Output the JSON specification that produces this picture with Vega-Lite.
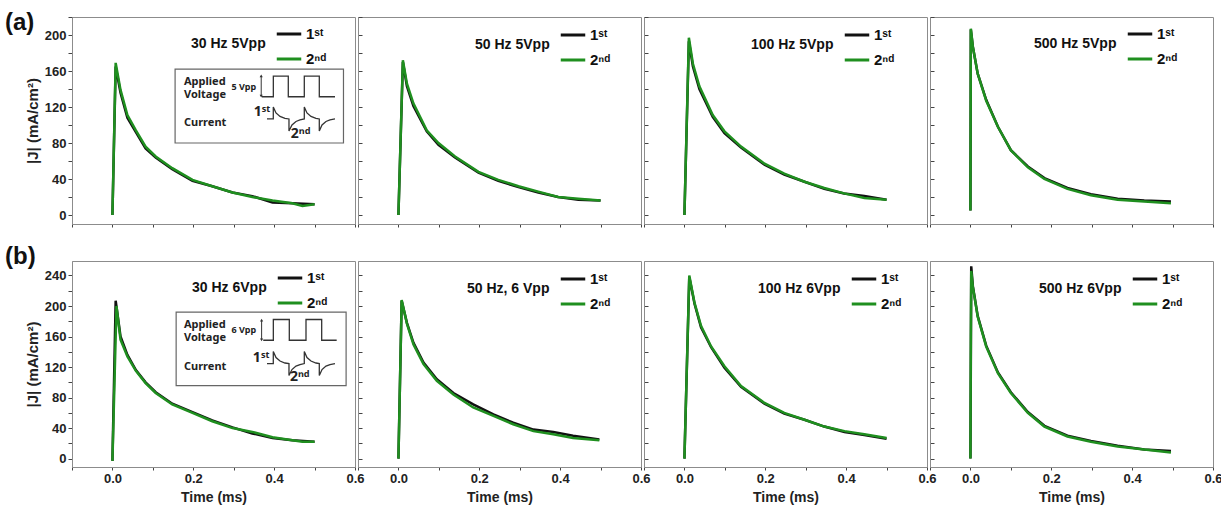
{
"$schema":"https://vega.github.io/schema/vega-lite/v6.json",
"padding":{"left":4,"top":10,"right":4,"bottom":2},
"background":"white",
"spacing":16,
"resolve":{"scale":{"color":"independent","shape":"independent"},"legend":{"color":"independent","shape":"independent"}},
"datasets":{
"curves":[
{"p":"a1","s":"1st","t":0,"J":0},{"p":"a1","s":"1st","t":0.008,"J":165},{"p":"a1","s":"1st","t":0.02,"J":136},{"p":"a1","s":"1st","t":0.037,"J":108},{"p":"a1","s":"1st","t":0.058,"J":92},{"p":"a1","s":"1st","t":0.082,"J":74},{"p":"a1","s":"1st","t":0.107,"J":64},{"p":"a1","s":"1st","t":0.148,"J":51},{"p":"a1","s":"1st","t":0.198,"J":38},{"p":"a1","s":"1st","t":0.247,"J":32},{"p":"a1","s":"1st","t":0.297,"J":25},{"p":"a1","s":"1st","t":0.346,"J":21},{"p":"a1","s":"1st","t":0.396,"J":14},{"p":"a1","s":"1st","t":0.445,"J":13},{"p":"a1","s":"1st","t":0.5,"J":12},
{"p":"a1","s":"2nd","t":0,"J":0},{"p":"a1","s":"2nd","t":0.008,"J":169},{"p":"a1","s":"2nd","t":0.02,"J":139},{"p":"a1","s":"2nd","t":0.037,"J":111},{"p":"a1","s":"2nd","t":0.058,"J":94},{"p":"a1","s":"2nd","t":0.082,"J":76},{"p":"a1","s":"2nd","t":0.107,"J":65},{"p":"a1","s":"2nd","t":0.148,"J":52},{"p":"a1","s":"2nd","t":0.198,"J":39},{"p":"a1","s":"2nd","t":0.247,"J":32},{"p":"a1","s":"2nd","t":0.297,"J":25},{"p":"a1","s":"2nd","t":0.346,"J":20},{"p":"a1","s":"2nd","t":0.396,"J":16},{"p":"a1","s":"2nd","t":0.445,"J":13},{"p":"a1","s":"2nd","t":0.47,"J":10},{"p":"a1","s":"2nd","t":0.5,"J":12},
{"p":"a2","s":"1st","t":0,"J":0},{"p":"a2","s":"1st","t":0.011,"J":170},{"p":"a2","s":"1st","t":0.021,"J":143},{"p":"a2","s":"1st","t":0.037,"J":121},{"p":"a2","s":"1st","t":0.07,"J":93},{"p":"a2","s":"1st","t":0.099,"J":78},{"p":"a2","s":"1st","t":0.14,"J":64},{"p":"a2","s":"1st","t":0.198,"J":47},{"p":"a2","s":"1st","t":0.247,"J":38},{"p":"a2","s":"1st","t":0.297,"J":31},{"p":"a2","s":"1st","t":0.346,"J":25},{"p":"a2","s":"1st","t":0.395,"J":20},{"p":"a2","s":"1st","t":0.445,"J":17},{"p":"a2","s":"1st","t":0.5,"J":16},
{"p":"a2","s":"2nd","t":0,"J":0},{"p":"a2","s":"2nd","t":0.011,"J":172},{"p":"a2","s":"2nd","t":0.021,"J":146},{"p":"a2","s":"2nd","t":0.037,"J":124},{"p":"a2","s":"2nd","t":0.07,"J":94},{"p":"a2","s":"2nd","t":0.099,"J":80},{"p":"a2","s":"2nd","t":0.14,"J":65},{"p":"a2","s":"2nd","t":0.198,"J":48},{"p":"a2","s":"2nd","t":0.247,"J":39},{"p":"a2","s":"2nd","t":0.297,"J":32},{"p":"a2","s":"2nd","t":0.346,"J":26},{"p":"a2","s":"2nd","t":0.395,"J":20},{"p":"a2","s":"2nd","t":0.445,"J":18},{"p":"a2","s":"2nd","t":0.5,"J":16},
{"p":"a3","s":"1st","t":0,"J":0},{"p":"a3","s":"1st","t":0.011,"J":193},{"p":"a3","s":"1st","t":0.021,"J":165},{"p":"a3","s":"1st","t":0.037,"J":140},{"p":"a3","s":"1st","t":0.07,"J":109},{"p":"a3","s":"1st","t":0.099,"J":91},{"p":"a3","s":"1st","t":0.14,"J":75},{"p":"a3","s":"1st","t":0.198,"J":56},{"p":"a3","s":"1st","t":0.247,"J":45},{"p":"a3","s":"1st","t":0.297,"J":37},{"p":"a3","s":"1st","t":0.346,"J":29},{"p":"a3","s":"1st","t":0.395,"J":24},{"p":"a3","s":"1st","t":0.445,"J":21},{"p":"a3","s":"1st","t":0.5,"J":17},
{"p":"a3","s":"2nd","t":0,"J":0},{"p":"a3","s":"2nd","t":0.011,"J":197},{"p":"a3","s":"2nd","t":0.021,"J":168},{"p":"a3","s":"2nd","t":0.037,"J":143},{"p":"a3","s":"2nd","t":0.07,"J":111},{"p":"a3","s":"2nd","t":0.099,"J":93},{"p":"a3","s":"2nd","t":0.14,"J":76},{"p":"a3","s":"2nd","t":0.198,"J":57},{"p":"a3","s":"2nd","t":0.247,"J":46},{"p":"a3","s":"2nd","t":0.297,"J":37},{"p":"a3","s":"2nd","t":0.346,"J":30},{"p":"a3","s":"2nd","t":0.395,"J":24},{"p":"a3","s":"2nd","t":0.445,"J":19},{"p":"a3","s":"2nd","t":0.5,"J":17},
{"p":"a4","s":"1st","t":0,"J":5},{"p":"a4","s":"1st","t":0.001,"J":206},{"p":"a4","s":"1st","t":0.006,"J":187},{"p":"a4","s":"1st","t":0.018,"J":157},{"p":"a4","s":"1st","t":0.039,"J":128},{"p":"a4","s":"1st","t":0.068,"J":98},{"p":"a4","s":"1st","t":0.1,"J":72},{"p":"a4","s":"1st","t":0.142,"J":54},{"p":"a4","s":"1st","t":0.183,"J":41},{"p":"a4","s":"1st","t":0.24,"J":30},{"p":"a4","s":"1st","t":0.298,"J":23},{"p":"a4","s":"1st","t":0.364,"J":18},{"p":"a4","s":"1st","t":0.43,"J":16},{"p":"a4","s":"1st","t":0.496,"J":15},
{"p":"a4","s":"2nd","t":0,"J":5},{"p":"a4","s":"2nd","t":0.001,"J":207},{"p":"a4","s":"2nd","t":0.006,"J":187},{"p":"a4","s":"2nd","t":0.018,"J":157},{"p":"a4","s":"2nd","t":0.039,"J":127},{"p":"a4","s":"2nd","t":0.068,"J":98},{"p":"a4","s":"2nd","t":0.1,"J":72},{"p":"a4","s":"2nd","t":0.142,"J":53},{"p":"a4","s":"2nd","t":0.183,"J":40},{"p":"a4","s":"2nd","t":0.24,"J":29},{"p":"a4","s":"2nd","t":0.298,"J":22},{"p":"a4","s":"2nd","t":0.364,"J":17},{"p":"a4","s":"2nd","t":0.43,"J":15},{"p":"a4","s":"2nd","t":0.496,"J":13},
{"p":"b1","s":"1st","t":0,"J":-3},{"p":"b1","s":"1st","t":0.008,"J":207},{"p":"b1","s":"1st","t":0.02,"J":160},{"p":"b1","s":"1st","t":0.037,"J":136},{"p":"b1","s":"1st","t":0.058,"J":116},{"p":"b1","s":"1st","t":0.082,"J":100},{"p":"b1","s":"1st","t":0.107,"J":87},{"p":"b1","s":"1st","t":0.148,"J":72},{"p":"b1","s":"1st","t":0.198,"J":61},{"p":"b1","s":"1st","t":0.247,"J":50},{"p":"b1","s":"1st","t":0.297,"J":41},{"p":"b1","s":"1st","t":0.346,"J":33},{"p":"b1","s":"1st","t":0.396,"J":27},{"p":"b1","s":"1st","t":0.445,"J":24},{"p":"b1","s":"1st","t":0.5,"J":22},
{"p":"b1","s":"2nd","t":0,"J":-3},{"p":"b1","s":"2nd","t":0.01,"J":200},{"p":"b1","s":"2nd","t":0.02,"J":156},{"p":"b1","s":"2nd","t":0.037,"J":134},{"p":"b1","s":"2nd","t":0.058,"J":115},{"p":"b1","s":"2nd","t":0.082,"J":99},{"p":"b1","s":"2nd","t":0.107,"J":86},{"p":"b1","s":"2nd","t":0.148,"J":71},{"p":"b1","s":"2nd","t":0.198,"J":60},{"p":"b1","s":"2nd","t":0.247,"J":49},{"p":"b1","s":"2nd","t":0.297,"J":40},{"p":"b1","s":"2nd","t":0.346,"J":35},{"p":"b1","s":"2nd","t":0.396,"J":28},{"p":"b1","s":"2nd","t":0.445,"J":24},{"p":"b1","s":"2nd","t":0.47,"J":22},{"p":"b1","s":"2nd","t":0.5,"J":22},
{"p":"b2","s":"1st","t":0,"J":0},{"p":"b2","s":"1st","t":0.008,"J":207},{"p":"b2","s":"1st","t":0.021,"J":178},{"p":"b2","s":"1st","t":0.037,"J":152},{"p":"b2","s":"1st","t":0.062,"J":126},{"p":"b2","s":"1st","t":0.095,"J":104},{"p":"b2","s":"1st","t":0.136,"J":86},{"p":"b2","s":"1st","t":0.185,"J":71},{"p":"b2","s":"1st","t":0.235,"J":58},{"p":"b2","s":"1st","t":0.284,"J":47},{"p":"b2","s":"1st","t":0.334,"J":38},{"p":"b2","s":"1st","t":0.383,"J":35},{"p":"b2","s":"1st","t":0.432,"J":30},{"p":"b2","s":"1st","t":0.497,"J":25},
{"p":"b2","s":"2nd","t":0,"J":0},{"p":"b2","s":"2nd","t":0.008,"J":208},{"p":"b2","s":"2nd","t":0.021,"J":177},{"p":"b2","s":"2nd","t":0.037,"J":150},{"p":"b2","s":"2nd","t":0.062,"J":124},{"p":"b2","s":"2nd","t":0.095,"J":102},{"p":"b2","s":"2nd","t":0.136,"J":84},{"p":"b2","s":"2nd","t":0.185,"J":67},{"p":"b2","s":"2nd","t":0.235,"J":56},{"p":"b2","s":"2nd","t":0.284,"J":45},{"p":"b2","s":"2nd","t":0.334,"J":36},{"p":"b2","s":"2nd","t":0.383,"J":32},{"p":"b2","s":"2nd","t":0.432,"J":27},{"p":"b2","s":"2nd","t":0.497,"J":24},
{"p":"b3","s":"1st","t":0,"J":0},{"p":"b3","s":"1st","t":0.012,"J":238},{"p":"b3","s":"1st","t":0.025,"J":203},{"p":"b3","s":"1st","t":0.041,"J":172},{"p":"b3","s":"1st","t":0.066,"J":146},{"p":"b3","s":"1st","t":0.099,"J":119},{"p":"b3","s":"1st","t":0.14,"J":94},{"p":"b3","s":"1st","t":0.198,"J":72},{"p":"b3","s":"1st","t":0.247,"J":59},{"p":"b3","s":"1st","t":0.297,"J":51},{"p":"b3","s":"1st","t":0.346,"J":42},{"p":"b3","s":"1st","t":0.396,"J":35},{"p":"b3","s":"1st","t":0.445,"J":31},{"p":"b3","s":"1st","t":0.5,"J":26},
{"p":"b3","s":"2nd","t":0,"J":0},{"p":"b3","s":"2nd","t":0.012,"J":240},{"p":"b3","s":"2nd","t":0.025,"J":204},{"p":"b3","s":"2nd","t":0.041,"J":174},{"p":"b3","s":"2nd","t":0.066,"J":147},{"p":"b3","s":"2nd","t":0.099,"J":121},{"p":"b3","s":"2nd","t":0.14,"J":95},{"p":"b3","s":"2nd","t":0.198,"J":73},{"p":"b3","s":"2nd","t":0.247,"J":60},{"p":"b3","s":"2nd","t":0.297,"J":51},{"p":"b3","s":"2nd","t":0.346,"J":42},{"p":"b3","s":"2nd","t":0.396,"J":36},{"p":"b3","s":"2nd","t":0.445,"J":32},{"p":"b3","s":"2nd","t":0.5,"J":27},
{"p":"b4","s":"1st","t":0,"J":0},{"p":"b4","s":"1st","t":0.002,"J":252},{"p":"b4","s":"1st","t":0.006,"J":226},{"p":"b4","s":"1st","t":0.018,"J":187},{"p":"b4","s":"1st","t":0.039,"J":148},{"p":"b4","s":"1st","t":0.068,"J":113},{"p":"b4","s":"1st","t":0.1,"J":87},{"p":"b4","s":"1st","t":0.142,"J":61},{"p":"b4","s":"1st","t":0.183,"J":43},{"p":"b4","s":"1st","t":0.24,"J":30},{"p":"b4","s":"1st","t":0.298,"J":23},{"p":"b4","s":"1st","t":0.364,"J":17},{"p":"b4","s":"1st","t":0.43,"J":12},{"p":"b4","s":"1st","t":0.496,"J":10},
{"p":"b4","s":"2nd","t":0,"J":0},{"p":"b4","s":"2nd","t":0.001,"J":160},{"p":"b4","s":"2nd","t":0.002,"J":246},{"p":"b4","s":"2nd","t":0.006,"J":225},{"p":"b4","s":"2nd","t":0.018,"J":186},{"p":"b4","s":"2nd","t":0.039,"J":147},{"p":"b4","s":"2nd","t":0.068,"J":112},{"p":"b4","s":"2nd","t":0.1,"J":86},{"p":"b4","s":"2nd","t":0.142,"J":60},{"p":"b4","s":"2nd","t":0.183,"J":42},{"p":"b4","s":"2nd","t":0.24,"J":29},{"p":"b4","s":"2nd","t":0.298,"J":22},{"p":"b4","s":"2nd","t":0.364,"J":16},{"p":"b4","s":"2nd","t":0.43,"J":12},{"p":"b4","s":"2nd","t":0.496,"J":8}
],
"box":[{"row":"a","t":0.155,"t2":0.5715,"J":80,"J2":162},{"row":"b","t":0.1576,"t2":0.578,"J":95.7,"J2":191.9}],
"arrow":[{"row":"a","t":0.368,"J":132,"J2":154.5},{"row":"b","t":0.369,"J":155.5,"J2":181.5}],
"heads":[{"row":"a","t":0.368,"J":154.5,"dir":"up"},{"row":"a","t":0.368,"J":132,"dir":"down"},{"row":"b","t":0.369,"J":181.5,"dir":"up"},{"row":"b","t":0.369,"J":155.5,"dir":"down"}],
"itext":[
{"row":"a","kind":"name","text":"Applied","t":0.177,"J":148},{"row":"a","kind":"name","text":"Voltage","t":0.177,"J":133.5},{"row":"a","kind":"name","text":"Current","t":0.177,"J":101.7},{"row":"a","kind":"amp","text":"5 Vpp","t":0.325,"J":142},{"row":"a","kind":"first","text":"1ˢᵗ","t":0.39,"J":114},{"row":"a","kind":"second","text":"2ⁿᵈ","t":0.441,"J":90},
{"row":"b","kind":"name","text":"Applied","t":0.177,"J":175.7},{"row":"b","kind":"name","text":"Voltage","t":0.177,"J":158.3},{"row":"b","kind":"name","text":"Current","t":0.177,"J":119.7},{"row":"b","kind":"amp","text":"6 Vpp","t":0.325,"J":168.3},{"row":"b","kind":"first","text":"1ˢᵗ","t":0.388,"J":132},{"row":"b","kind":"second","text":"2ⁿᵈ","t":0.439,"J":107}
],
"wave":[
{"row":"a","w":"V","i":0,"t":0.37,"J":131.4},{"row":"a","w":"V","i":1,"t":0.398,"J":131.4},{"row":"a","w":"V","i":2,"t":0.398,"J":154.4},{"row":"a","w":"V","i":3,"t":0.435,"J":154.4},{"row":"a","w":"V","i":4,"t":0.435,"J":131.4},{"row":"a","w":"V","i":5,"t":0.4746,"J":131.4},{"row":"a","w":"V","i":6,"t":0.4746,"J":154.4},{"row":"a","w":"V","i":7,"t":0.5117,"J":154.4},{"row":"a","w":"V","i":8,"t":0.5117,"J":131.4},{"row":"a","w":"V","i":9,"t":0.5505,"J":131.4},
{"row":"a","w":"I","i":0,"t":0.3823,"J":106.7},{"row":"a","w":"I","i":1,"t":0.3979,"J":106.7},{"row":"a","w":"I","i":2,"t":0.3979,"J":120},{"row":"a","w":"I","i":3,"t":0.4046,"J":113.4},{"row":"a","w":"I","i":4,"t":0.4145,"J":109.5},{"row":"a","w":"I","i":5,"t":0.4268,"J":107.3},{"row":"a","w":"I","i":6,"t":0.4367,"J":106.7},{"row":"a","w":"I","i":7,"t":0.4367,"J":93.4},{"row":"a","w":"I","i":8,"t":0.4441,"J":100},{"row":"a","w":"I","i":9,"t":0.454,"J":103.9},{"row":"a","w":"I","i":10,"t":0.4639,"J":105.6},{"row":"a","w":"I","i":11,"t":0.4746,"J":106.7},{"row":"a","w":"I","i":12,"t":0.4746,"J":120},{"row":"a","w":"I","i":13,"t":0.4812,"J":113.4},{"row":"a","w":"I","i":14,"t":0.4911,"J":109.5},{"row":"a","w":"I","i":15,"t":0.5035,"J":107.3},{"row":"a","w":"I","i":16,"t":0.5117,"J":106.7},{"row":"a","w":"I","i":17,"t":0.5117,"J":93.4},{"row":"a","w":"I","i":18,"t":0.5184,"J":100},{"row":"a","w":"I","i":19,"t":0.5282,"J":103.9},{"row":"a","w":"I","i":20,"t":0.5381,"J":105.6},{"row":"a","w":"I","i":21,"t":0.5505,"J":106.7},
{"row":"b","w":"V","i":0,"t":0.373,"J":155.1},{"row":"b","w":"V","i":1,"t":0.398,"J":155.1},{"row":"b","w":"V","i":2,"t":0.398,"J":182.3},{"row":"b","w":"V","i":3,"t":0.4375,"J":182.3},{"row":"b","w":"V","i":4,"t":0.4375,"J":155.1},{"row":"b","w":"V","i":5,"t":0.4788,"J":155.1},{"row":"b","w":"V","i":6,"t":0.4788,"J":182.3},{"row":"b","w":"V","i":7,"t":0.5176,"J":182.3},{"row":"b","w":"V","i":8,"t":0.5176,"J":155.1},{"row":"b","w":"V","i":9,"t":0.5547,"J":155.1},
{"row":"b","w":"I","i":0,"t":0.3823,"J":124.6},{"row":"b","w":"I","i":1,"t":0.3979,"J":124.6},{"row":"b","w":"I","i":2,"t":0.3979,"J":140.3},{"row":"b","w":"I","i":3,"t":0.4046,"J":132.5},{"row":"b","w":"I","i":4,"t":0.4145,"J":127.9},{"row":"b","w":"I","i":5,"t":0.4268,"J":125.3},{"row":"b","w":"I","i":6,"t":0.4367,"J":124.6},{"row":"b","w":"I","i":7,"t":0.4367,"J":108.9},{"row":"b","w":"I","i":8,"t":0.4441,"J":116.7},{"row":"b","w":"I","i":9,"t":0.454,"J":121.3},{"row":"b","w":"I","i":10,"t":0.4639,"J":123.3},{"row":"b","w":"I","i":11,"t":0.4746,"J":124.6},{"row":"b","w":"I","i":12,"t":0.4746,"J":140.3},{"row":"b","w":"I","i":13,"t":0.4812,"J":132.5},{"row":"b","w":"I","i":14,"t":0.4911,"J":127.9},{"row":"b","w":"I","i":15,"t":0.5035,"J":125.3},{"row":"b","w":"I","i":16,"t":0.5117,"J":124.6},{"row":"b","w":"I","i":17,"t":0.5117,"J":108.9},{"row":"b","w":"I","i":18,"t":0.5184,"J":116.7},{"row":"b","w":"I","i":19,"t":0.5282,"J":121.3},{"row":"b","w":"I","i":20,"t":0.5381,"J":123.3},{"row":"b","w":"I","i":21,"t":0.5505,"J":124.6}
]
},
"vconcat":[
{"bounds":"flush","spacing":3,
 "resolve":{"scale":{"color":"independent","shape":"independent"},"legend":{"color":"independent","shape":"independent"}},
 "hconcat":[
 {"width":283,"height":207,
  "title":{"text":"(a)","anchor":"start","frame":"group","offset":-24,"dx":-67,"fontSize":24,"fontWeight":"bold","font":"Liberation Sans","color":"#111"},
  "encoding":{
   "x":{"field":"t","type":"quantitative","scale":{"domain":[-0.1,0.6],"nice":false,"zero":false},"axis":{"values":[-0.1,0,0.1,0.2,0.3,0.4,0.5,0.6],"labels":false,"title":null}},
   "y":{"field":"J","type":"quantitative","scale":{"domain":[-10,220],"nice":false,"zero":false},"axis":{"values":[0,20,40,60,80,100,120,140,160,180,200,220],"labelExpr":"datum.value % 40 == 0 ? datum.label : ''","title":"|J| (mA/cm²)"}}},
  "layer":[
   {"data":{"name":"curves"},"transform":[{"filter":"datum.p == 'a1'"}],"mark":{"type":"line","strokeWidth":2.5},"encoding":{"color":{"field":"s","type":"nominal","legend":{"title":"30 Hz 5Vpp","orient":"none","legendX":119,"legendY":3,"labelExpr":"datum.label == '1st' ? '1ˢᵗ' : '2ⁿᵈ'"}}}},
   {"data":{"values":[{}]},"mark":{"type":"rule","color":"#111","strokeWidth":2.5},"encoding":{"x":{"datum":0.6},"y":{"datum":-10},"y2":{"datum":220}}},
   {"data":{"name":"box"},"transform":[{"filter":"datum.row == 'a'"}],"mark":{"type":"rect","fill":"white","stroke":"#666","strokeWidth":1.2},"encoding":{"x2":{"field":"t2"},"y2":{"field":"J2"}}},
   {"data":{"name":"wave"},"transform":[{"filter":"datum.row == 'a'"}],"mark":{"type":"line","color":"#333","strokeWidth":1.3},"encoding":{"detail":{"field":"w"},"order":{"field":"i","type":"quantitative"}}},
   {"data":{"name":"arrow"},"transform":[{"filter":"datum.row == 'a'"}],"mark":{"type":"rule","color":"#333","strokeWidth":1},"encoding":{"y2":{"field":"J2"}}},
   {"data":{"name":"heads"},"transform":[{"filter":"datum.row == 'a'"}],"mark":{"type":"point","filled":true,"color":"#333","size":10,"opacity":1},"encoding":{"shape":{"field":"dir","type":"nominal","scale":{"domain":["up","down"],"range":["triangle-up","triangle-down"]},"legend":null}}},
   {"data":{"name":"itext"},"transform":[{"filter":"datum.row == 'a' && datum.kind == 'name'"}],"mark":{"type":"text","align":"left","baseline":"middle","font":"Noto Sans","fontWeight":"bold","fontSize":11,"color":"#222"},"encoding":{"text":{"field":"text"}}},
   {"data":{"name":"itext"},"transform":[{"filter":"datum.row == 'a' && datum.kind == 'amp'"}],"mark":{"type":"text","align":"center","baseline":"middle","font":"Noto Sans","fontWeight":"bold","fontSize":9,"color":"#222"},"encoding":{"text":{"field":"text"}}},
   {"data":{"name":"itext"},"transform":[{"filter":"datum.row == 'a' && datum.kind == 'first'"}],"mark":{"type":"text","align":"right","baseline":"middle","font":"Noto Sans","fontWeight":"bold","fontSize":14,"color":"#222"},"encoding":{"text":{"field":"text"}}},
   {"data":{"name":"itext"},"transform":[{"filter":"datum.row == 'a' && datum.kind == 'second'"}],"mark":{"type":"text","align":"left","baseline":"middle","font":"Noto Sans","fontWeight":"bold","fontSize":14,"color":"#222"},"encoding":{"text":{"field":"text"}}}
  ]},
 {"width":283,"height":207,
  "encoding":{
   "x":{"field":"t","type":"quantitative","scale":{"domain":[-0.1,0.6],"nice":false,"zero":false},"axis":{"values":[-0.1,0,0.1,0.2,0.3,0.4,0.5,0.6],"labels":false,"title":null}},
   "y":{"field":"J","type":"quantitative","scale":{"domain":[-10,220],"nice":false,"zero":false},"axis":{"values":[0,20,40,60,80,100,120,140,160,180,200,220],"labels":false,"title":null,"tickSize":-4}}},
  "layer":[
   {"data":{"name":"curves"},"transform":[{"filter":"datum.p == 'a2'"}],"mark":{"type":"line","strokeWidth":2.5},"encoding":{"color":{"field":"s","type":"nominal","legend":{"title":"50 Hz 5Vpp","orient":"none","legendX":117,"legendY":4,"labelExpr":"datum.label == '1st' ? '1ˢᵗ' : '2ⁿᵈ'"}}}},
   {"data":{"values":[{}]},"mark":{"type":"rule","color":"#111","strokeWidth":2.5},"encoding":{"x":{"datum":0.6},"y":{"datum":-10},"y2":{"datum":220}}}
  ]},
 {"width":283,"height":207,
  "encoding":{
   "x":{"field":"t","type":"quantitative","scale":{"domain":[-0.1,0.6],"nice":false,"zero":false},"axis":{"values":[-0.1,0,0.1,0.2,0.3,0.4,0.5,0.6],"labels":false,"title":null}},
   "y":{"field":"J","type":"quantitative","scale":{"domain":[-10,220],"nice":false,"zero":false},"axis":{"values":[0,20,40,60,80,100,120,140,160,180,200,220],"labels":false,"title":null,"tickSize":-4}}},
  "layer":[
   {"data":{"name":"curves"},"transform":[{"filter":"datum.p == 'a3'"}],"mark":{"type":"line","strokeWidth":2.5},"encoding":{"color":{"field":"s","type":"nominal","legend":{"title":"100 Hz 5Vpp","orient":"none","legendX":107,"legendY":4,"labelExpr":"datum.label == '1st' ? '1ˢᵗ' : '2ⁿᵈ'"}}}},
   {"data":{"values":[{}]},"mark":{"type":"rule","color":"#111","strokeWidth":2.5},"encoding":{"x":{"datum":0.6},"y":{"datum":-10},"y2":{"datum":220}}}
  ]},
 {"width":283,"height":207,
  "encoding":{
   "x":{"field":"t","type":"quantitative","scale":{"domain":[-0.1,0.6],"nice":false,"zero":false},"axis":{"values":[-0.1,0,0.1,0.2,0.3,0.4,0.5,0.6],"labels":false,"title":null}},
   "y":{"field":"J","type":"quantitative","scale":{"domain":[-10,220],"nice":false,"zero":false},"axis":{"values":[0,20,40,60,80,100,120,140,160,180,200,220],"labels":false,"title":null,"tickSize":-4}}},
  "layer":[
   {"data":{"name":"curves"},"transform":[{"filter":"datum.p == 'a4'"}],"mark":{"type":"line","strokeWidth":2.5},"encoding":{"color":{"field":"s","type":"nominal","legend":{"title":"500 Hz 5Vpp","orient":"none","legendX":104,"legendY":3,"labelExpr":"datum.label == '1st' ? '1ˢᵗ' : '2ⁿᵈ'"}}}},
   {"data":{"values":[{}]},"mark":{"type":"rule","color":"#111","strokeWidth":2.5},"encoding":{"x":{"datum":0.6},"y":{"datum":-10},"y2":{"datum":220}}}
  ]}
 ]},
{"bounds":"flush","spacing":3,
 "resolve":{"scale":{"color":"independent","shape":"independent"},"legend":{"color":"independent","shape":"independent"}},
 "hconcat":[
 {"width":283,"height":206,
  "title":{"text":"(b)","anchor":"start","frame":"group","offset":-8,"dx":-67,"fontSize":24,"fontWeight":"bold","font":"Liberation Sans","color":"#111"},
  "encoding":{
   "x":{"field":"t","type":"quantitative","scale":{"domain":[-0.1,0.6],"nice":false,"zero":false},"axis":{"values":[-0.1,0,0.1,0.2,0.3,0.4,0.5,0.6],"labelExpr":"abs(round(datum.value*10)) % 2 == 0 ? format(datum.value, '.1f') : ''","title":"Time (ms)"}},
   "y":{"field":"J","type":"quantitative","scale":{"domain":[-11,259],"nice":false,"zero":false},"axis":{"values":[0,20,40,60,80,100,120,140,160,180,200,220,240],"labelExpr":"datum.value % 40 == 0 ? datum.label : ''","title":"|J| (mA/cm²)"}}},
  "layer":[
   {"data":{"name":"curves"},"transform":[{"filter":"datum.p == 'b1'"}],"mark":{"type":"line","strokeWidth":2.5},"encoding":{"color":{"field":"s","type":"nominal","legend":{"title":"30 Hz 6Vpp","orient":"none","legendX":120,"legendY":3,"labelExpr":"datum.label == '1st' ? '1ˢᵗ' : '2ⁿᵈ'"}}}},
   {"data":{"values":[{}]},"mark":{"type":"rule","color":"#111","strokeWidth":2.5},"encoding":{"x":{"datum":0.6},"y":{"datum":-11},"y2":{"datum":259}}},
   {"data":{"name":"box"},"transform":[{"filter":"datum.row == 'b'"}],"mark":{"type":"rect","fill":"white","stroke":"#666","strokeWidth":1.2},"encoding":{"x2":{"field":"t2"},"y2":{"field":"J2"}}},
   {"data":{"name":"wave"},"transform":[{"filter":"datum.row == 'b'"}],"mark":{"type":"line","color":"#333","strokeWidth":1.3},"encoding":{"detail":{"field":"w"},"order":{"field":"i","type":"quantitative"}}},
   {"data":{"name":"arrow"},"transform":[{"filter":"datum.row == 'b'"}],"mark":{"type":"rule","color":"#333","strokeWidth":1},"encoding":{"y2":{"field":"J2"}}},
   {"data":{"name":"heads"},"transform":[{"filter":"datum.row == 'b'"}],"mark":{"type":"point","filled":true,"color":"#333","size":10,"opacity":1},"encoding":{"shape":{"field":"dir","type":"nominal","scale":{"domain":["up","down"],"range":["triangle-up","triangle-down"]},"legend":null}}},
   {"data":{"name":"itext"},"transform":[{"filter":"datum.row == 'b' && datum.kind == 'name'"}],"mark":{"type":"text","align":"left","baseline":"middle","font":"Noto Sans","fontWeight":"bold","fontSize":11,"color":"#222"},"encoding":{"text":{"field":"text"}}},
   {"data":{"name":"itext"},"transform":[{"filter":"datum.row == 'b' && datum.kind == 'amp'"}],"mark":{"type":"text","align":"center","baseline":"middle","font":"Noto Sans","fontWeight":"bold","fontSize":9,"color":"#222"},"encoding":{"text":{"field":"text"}}},
   {"data":{"name":"itext"},"transform":[{"filter":"datum.row == 'b' && datum.kind == 'first'"}],"mark":{"type":"text","align":"right","baseline":"middle","font":"Noto Sans","fontWeight":"bold","fontSize":14,"color":"#222"},"encoding":{"text":{"field":"text"}}},
   {"data":{"name":"itext"},"transform":[{"filter":"datum.row == 'b' && datum.kind == 'second'"}],"mark":{"type":"text","align":"left","baseline":"middle","font":"Noto Sans","fontWeight":"bold","fontSize":14,"color":"#222"},"encoding":{"text":{"field":"text"}}}
  ]},
 {"width":283,"height":206,
  "encoding":{
   "x":{"field":"t","type":"quantitative","scale":{"domain":[-0.1,0.6],"nice":false,"zero":false},"axis":{"values":[-0.1,0,0.1,0.2,0.3,0.4,0.5,0.6],"labelExpr":"abs(round(datum.value*10)) % 2 == 0 ? format(datum.value, '.1f') : ''","title":"Time (ms)"}},
   "y":{"field":"J","type":"quantitative","scale":{"domain":[-11,259],"nice":false,"zero":false},"axis":{"values":[0,20,40,60,80,100,120,140,160,180,200,220,240],"labels":false,"title":null,"tickSize":-4}}},
  "layer":[
   {"data":{"name":"curves"},"transform":[{"filter":"datum.p == 'b2'"}],"mark":{"type":"line","strokeWidth":2.5},"encoding":{"color":{"field":"s","type":"nominal","legend":{"title":"50 Hz, 6 Vpp","orient":"none","legendX":109,"legendY":4,"labelExpr":"datum.label == '1st' ? '1ˢᵗ' : '2ⁿᵈ'"}}}},
   {"data":{"values":[{}]},"mark":{"type":"rule","color":"#111","strokeWidth":2.5},"encoding":{"x":{"datum":0.6},"y":{"datum":-11},"y2":{"datum":259}}}
  ]},
 {"width":283,"height":206,
  "encoding":{
   "x":{"field":"t","type":"quantitative","scale":{"domain":[-0.1,0.6],"nice":false,"zero":false},"axis":{"values":[-0.1,0,0.1,0.2,0.3,0.4,0.5,0.6],"labelExpr":"abs(round(datum.value*10)) % 2 == 0 ? format(datum.value, '.1f') : ''","title":"Time (ms)"}},
   "y":{"field":"J","type":"quantitative","scale":{"domain":[-11,259],"nice":false,"zero":false},"axis":{"values":[0,20,40,60,80,100,120,140,160,180,200,220,240],"labels":false,"title":null,"tickSize":-4}}},
  "layer":[
   {"data":{"name":"curves"},"transform":[{"filter":"datum.p == 'b3'"}],"mark":{"type":"line","strokeWidth":2.5},"encoding":{"color":{"field":"s","type":"nominal","legend":{"title":"100 Hz 6Vpp","orient":"none","legendX":114,"legendY":4,"labelExpr":"datum.label == '1st' ? '1ˢᵗ' : '2ⁿᵈ'"}}}},
   {"data":{"values":[{}]},"mark":{"type":"rule","color":"#111","strokeWidth":2.5},"encoding":{"x":{"datum":0.6},"y":{"datum":-11},"y2":{"datum":259}}}
  ]},
 {"width":283,"height":206,
  "encoding":{
   "x":{"field":"t","type":"quantitative","scale":{"domain":[-0.1,0.6],"nice":false,"zero":false},"axis":{"values":[-0.1,0,0.1,0.2,0.3,0.4,0.5,0.6],"labelExpr":"abs(round(datum.value*10)) % 2 == 0 ? format(datum.value, '.1f') : ''","title":"Time (ms)"}},
   "y":{"field":"J","type":"quantitative","scale":{"domain":[-11,259],"nice":false,"zero":false},"axis":{"values":[0,20,40,60,80,100,120,140,160,180,200,220,240],"labels":false,"title":null,"tickSize":-4}}},
  "layer":[
   {"data":{"name":"curves"},"transform":[{"filter":"datum.p == 'b4'"}],"mark":{"type":"line","strokeWidth":2.5},"encoding":{"color":{"field":"s","type":"nominal","legend":{"title":"500 Hz 6Vpp","orient":"none","legendX":109,"legendY":4,"labelExpr":"datum.label == '1st' ? '1ˢᵗ' : '2ⁿᵈ'"}}}},
   {"data":{"values":[{}]},"mark":{"type":"rule","color":"#111","strokeWidth":2.5},"encoding":{"x":{"datum":0.6},"y":{"datum":-11},"y2":{"datum":259}}}
  ]}
 ]}
],
"config":{
 "font":"Liberation Sans",
 "view":{"stroke":"#8c8c8c","strokeWidth":1},
 "range":{"category":["#111111","#1f8f1f"]},
 "axis":{"grid":false,"domainColor":"#8c8c8c","domainWidth":1,"tickColor":"#444","tickSize":4,"tickWidth":1,"labelFont":"Liberation Sans","labelFontSize":13,"labelFontWeight":"bold","labelColor":"#222","labelPadding":2,"labelFlush":false,"labelOverlap":false,"titleFont":"Liberation Sans","titleFontSize":14,"titleFontWeight":"bold","titleColor":"#222"},
 "axisY":{"titleFontSize":15,"titlePadding":4},
 "axisX":{"tickSize":3,"labelPadding":2,"titlePadding":5},
 "legend":{"titleOrient":"left","titleAnchor":"middle","titleBaseline":"middle","titleFont":"Liberation Sans","titleFontSize":14,"titleFontWeight":"bold","titleColor":"#111","titlePadding":9,"titleLimit":200,"labelFont":"Liberation Sans","labelFontSize":15,"labelFontWeight":"bold","labelColor":"#111","labelOffset":3,"symbolType":"stroke","symbolSize":600,"symbolStrokeWidth":3,"rowPadding":3,"padding":0}
}
}
